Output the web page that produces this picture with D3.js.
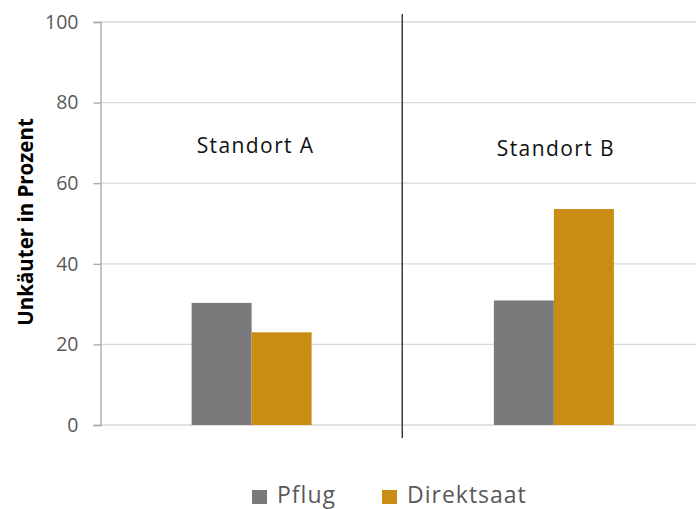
<!DOCTYPE html>
<html><head><meta charset="utf-8">
<script src="https://cdn.jsdelivr.net/npm/d3@7"></script>
<style>body{margin:0;background:#fff}svg{display:block}</style>
</head><body>
<svg id="c" width="696" height="509"></svg>
<script>
const categories = ["Standort A", "Standort B"];
const seriesNames = ["Pflug", "Direktsaat"];
const pflug = [30.3, 30.9];
const direktsaat = [23.0, 53.6];
const yTicks = [0, 20, 40, 60, 80, 100];
const colors = ["#7a7a7c", "#c98c14"];

(function () {
const FONT = "'Open Sans', 'Liberation Sans', sans-serif";
const svg = d3.select("#c");
const mLeft = 100.5, mRight = 705, mTop = 22, mBottom = 425;
const x = d3.scaleBand().domain(categories).range([mLeft, mRight]);
const y = d3.scaleLinear().domain([0, 100]).range([mBottom, mTop]);
const xs = d3.scaleBand().domain(seriesNames).range([0, 120]);

// gridlines
svg.append("g").selectAll("line").data(yTicks).join("line")
  .attr("x1", mLeft).attr("x2", 696)
  .attr("y1", d => y(d)).attr("y2", d => y(d))
  .attr("stroke", "#d9d9d9").attr("stroke-width", 1.3);

// y axis
const ya = svg.append("g").attr("transform", `translate(${mLeft},0)`)
  .call(d3.axisLeft(y).tickValues(yTicks).tickSize(7).tickPadding(15));
ya.attr("font-size", null).attr("font-family", null);
ya.select(".domain").attr("stroke", "#a6a6a6").attr("stroke-width", 1.3);
ya.selectAll(".tick line").attr("stroke", "#a6a6a6").attr("stroke-width", 1.3);
ya.selectAll(".tick text").attr("fill", "#595959")
  .attr("font-family", FONT).attr("font-size", "19.5px");

// bars
const data = categories.map((c, i) => ({c, vals: [pflug[i], direktsaat[i]]}));
const g = svg.append("g");
data.forEach(d => {
  const cx = x(d.c) + x.bandwidth() / 2 - 60;
  g.append("g").selectAll("rect").data(d.vals).join("rect")
    .attr("x", (v, j) => cx + xs(seriesNames[j]))
    .attr("width", xs.bandwidth())
    .attr("y", v => y(v)).attr("height", v => mBottom - y(v))
    .attr("fill", (v, j) => colors[j]);
});

// divider line
svg.append("line").attr("x1", x(categories[1]) - 0.5).attr("x2", x(categories[1]) - 0.5)
  .attr("y1", 14).attr("y2", 438).attr("stroke", "#222").attr("stroke-width", 1.3);

// category labels
svg.append("g").selectAll("text").data(categories).join("text")
  .attr("x", (d, i) => x(d) + x.bandwidth() / 2 + (i === 0 ? 4 : 2))
  .attr("y", (d, i) => i === 0 ? 153 : 156)
  .attr("text-anchor", "middle")
  .attr("font-family", FONT).attr("font-size", "21px").attr("letter-spacing", "1.4px")
  .attr("fill", "#111").text(d => d);

// y title
svg.append("text").attr("transform", "translate(33,222) rotate(-90)")
  .attr("text-anchor", "middle")
  .attr("font-family", FONT).attr("font-size", "20.5px")
  .attr("font-weight", "bold").attr("fill", "#000").text("Unkäuter in Prozent");

// legend
const leg = svg.append("g");
const legX = [252, 382];
seriesNames.forEach((s, i) => {
  leg.append("rect").attr("x", legX[i]).attr("y", 490).attr("width", 15).attr("height", 14).attr("fill", colors[i]);
  leg.append("text").attr("x", legX[i] + 25).attr("y", 503)
    .attr("font-family", FONT).attr("font-size", "23px").attr("letter-spacing", "1px")
    .attr("fill", "#595959").text(s);
});
})();
</script>
</body></html>
